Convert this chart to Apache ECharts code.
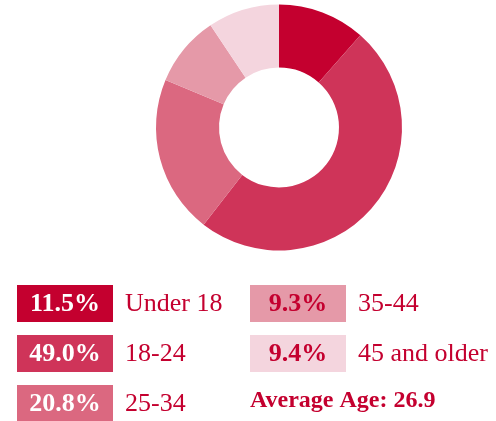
<!DOCTYPE html>
<html><head><meta charset="utf-8">
<script src="https://cdn.jsdelivr.net/npm/echarts@6/dist/echarts.min.js"></script>
<style>html,body{margin:0;padding:0;background:#fff}#c{width:496px;height:421px}</style>
</head><body><div id="c"></div>
<script>
const categories = ['Under 18', '18-24', '25-34', '35-44', '45 and older'];
const values = [11.5, 49.0, 20.8, 9.3, 9.4];
const colors = ['#C4002F', '#CF3459', '#DB6880', '#E599A8', '#F4D5DE'];
const averageAge = 26.9;

const chart = echarts.init(document.getElementById('c'));
const font = '"Liberation Serif", "DejaVu Serif", serif';
const graphics = [];
const colX = [17, 250];
const rowY = [285, 335, 385];
categories.forEach((cat, i) => {
  const col = i < 3 ? 0 : 1;
  const row = i < 3 ? i : i - 3;
  const x = colX[col], y = rowY[row];
  const dark = i < 3;
  graphics.push({
    type: 'rect', left: x, top: y,
    shape: { width: 96, height: 37 },
    style: { fill: colors[i] }
  });
  graphics.push({
    type: 'text', x: x + 48, y: y + 19,
    style: {
      text: values[i].toFixed(1) + '%', fill: dark ? '#fff' : '#C4002F',
      font: 'bold 26px ' + font, align: 'center', verticalAlign: 'middle'
    }
  });
  graphics.push({
    type: 'text', x: x + 108, y: y + 19,
    style: {
      text: cat, fill: '#C4002F',
      font: '26px ' + font, align: 'left', verticalAlign: 'middle'
    }
  });
});
graphics.push({
  type: 'text', x: 250, y: 401,
  style: {
    text: 'Average Age: ' + averageAge.toFixed(1), fill: '#C4002F',
    font: 'bold 24px ' + font, align: 'left', verticalAlign: 'middle'
  }
});

chart.setOption({
  animation: false,
  series: [{
    type: 'pie',
    center: [279, 127.5],
    radius: [60, 123],
    startAngle: 90,
    clockwise: true,
    label: { show: false },
    labelLine: { show: false },
    itemStyle: { borderWidth: 0 },
    emphasis: { disabled: true },
    data: categories.map((c, i) => ({ name: c, value: values[i], itemStyle: { color: colors[i] } }))
  }],
  graphic: graphics
});
</script></body></html>
